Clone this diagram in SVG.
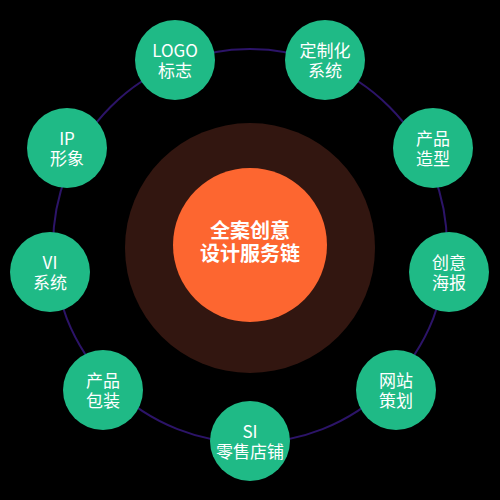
<svg xmlns="http://www.w3.org/2000/svg" width="500" height="500" viewBox="0 0 500 500">
<style>
.node circle{fill:#1fba86}
.node text{fill:#fff;font-family:"Noto Sans CJK SC","Noto Sans",sans-serif;font-size:17px;text-anchor:middle}
.core text{fill:#fff;font-family:"Noto Sans CJK SC",sans-serif;font-size:20px;font-weight:bold;text-anchor:middle}
</style>
<rect width="500" height="500" fill="#000"/>
<g id="connectors">
<circle cx="250" cy="246" r="197" fill="none" stroke="#2c1468" stroke-width="2"/>
</g>
<g id="core" class="core">
<circle cx="250" cy="248" r="125" fill="#321610"/>
<circle cx="250" cy="245" r="77" fill="#fd6630"/>
<text x="250" y="238">全案创意</text>
<text x="250" y="261">设计服务链</text>
</g>
<g id="n-logo" class="node"><circle cx="175" cy="60" r="40"/><text x="175" y="57">LOGO</text><text x="175" y="77">标志</text></g>
<g id="n-dingzhi" class="node"><circle cx="325" cy="60" r="40"/><text x="325" y="57">定制化</text><text x="325" y="77">系统</text></g>
<g id="n-chanpin-zx" class="node"><circle cx="433" cy="148" r="40"/><text x="433" y="145">产品</text><text x="433" y="165">造型</text></g>
<g id="n-haibao" class="node"><circle cx="449" cy="272" r="40"/><text x="449" y="269">创意</text><text x="449" y="289">海报</text></g>
<g id="n-wangzhan" class="node"><circle cx="396" cy="390" r="40"/><text x="396" y="387">网站</text><text x="396" y="407">策划</text></g>
<g id="n-si" class="node"><circle cx="250" cy="441" r="40"/><text x="250" y="438">SI</text><text x="250" y="458">零售店铺</text></g>
<g id="n-baozhuang" class="node"><circle cx="103" cy="390" r="40"/><text x="103" y="387">产品</text><text x="103" y="407">包装</text></g>
<g id="n-vi" class="node"><circle cx="50" cy="272" r="40"/><text x="50" y="269">VI</text><text x="50" y="289">系统</text></g>
<g id="n-ip" class="node"><circle cx="67" cy="148" r="40"/><text x="67" y="145">IP</text><text x="67" y="165">形象</text></g>
</svg>
